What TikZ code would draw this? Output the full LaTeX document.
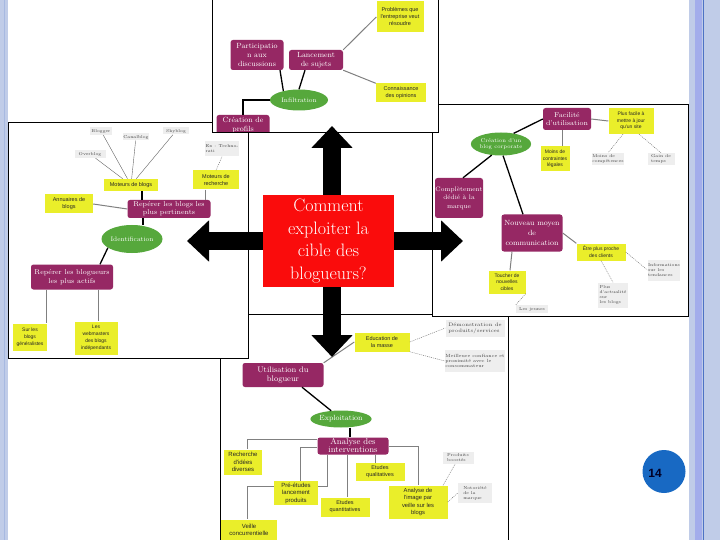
\documentclass[tikz,border=0pt]{standalone}
\usepackage{fontspec}
\usepackage{tikz}
\usetikzlibrary{arrows.meta, shapes.geometric}
\newfontfamily\notefont{Liberation Sans}
\definecolor{questionred}{RGB}{250, 12, 12}
\definecolor{mapplum}{RGB}{150, 40, 100}
\definecolor{mapgreen}{RGB}{86, 168, 60}
\definecolor{mapyellow}{RGB}{234, 238, 42}
\definecolor{mapgray}{RGB}{238, 238, 238}
\definecolor{pageblue}{RGB}{24, 105, 195}
\definecolor{stripe}{RGB}{192, 204, 232}
\definecolor{stripeline}{RGB}{78, 114, 196}
\pgfdeclarelayer{front}
\pgfsetlayers{main,front}
\tikzset{
  panel/.style={draw=black, line width=1pt},
  plum/.style={fill=mapplum, rounded corners=2.5pt, text=white, align=center, inner sep=0pt, font=\fontsize{7}{8.5}\selectfont},
  idea/.style={ellipse, fill=mapgreen, text=white, align=center, inner sep=0pt, font=\fontsize{6.5}{7}\selectfont},
  note/.style={fill=mapyellow, text=black!85, align=center, inner sep=0pt, font=\notefont\fontsize{5.5}{7}\selectfont},
  tag/.style={fill=mapgray, text=black!75, align=left, inner sep=0.5pt, font=\fontsize{4.2}{5}\selectfont},
  trunk/.style={line width=1.3pt, black},
  twig/.style={line width=1pt, gray},
  thread/.style={line width=0.4pt, black!60},
  hint/.style={line width=0.4pt, black!60, dash pattern=on 1pt off 1pt},
  bigarrow/.style={line width=18pt, -{Triangle[length=22pt, width=40pt]}},
}
\begin{document}
\begin{tikzpicture}[x=1pt, y=-1pt]
\useasboundingbox (0,0) rectangle (720,540);
\fill[white] (0,0) rectangle (720,540);
% slide borders
\fill[stripe] (0,0) rectangle (8,540);
\draw[stripeline!50, line width=0.6pt] (4,0) -- (4,540);
\fill[stripe] (689,0) rectangle (720,540);
\fill[stripe!85!blue] (695,0) rectangle (702,540);
\draw[stripeline, line width=0.8pt] (703,0) -- (703,540);

% exploitation
\begin{scope}
\clip (220,314) rectangle (508,540);
\fill[white] (220,314) rectangle (508,540);
\node[note, minimum width=55, minimum height=19] (masse) at (382,342) {Education de\\la masse};
\node[tag, minimum width=59, minimum height=17, font=\fontsize{5}{5.8}\selectfont] (demo) at (475,328) {Démonstration de\\produits/services};
\node[tag, minimum width=60, minimum height=22, font=\fontsize{4.5}{5.4}\selectfont] (trust) at (475,361) {Meilleure confiance et\\proximité avec le\\consommateur};
\node[plum, minimum width=81, minimum height=24, font=\fontsize{8}{9}\selectfont] (usage) at (283,375) {Utilisation du\\blogueur};
\node[idea, minimum width=61, minimum height=17, font=\fontsize{7.5}{8}\selectfont] (exploit) at (341,419) {Exploitation};
\node[plum, minimum width=71, minimum height=17, font=\fontsize{8.5}{8}\selectfont] (analysis) at (353,446) {Analyse des\\interventions};
\node[note, minimum width=38, minimum height=25, font=\notefont\fontsize{6}{7.5}\selectfont] (ideas) at (243,462) {Recherche\\d'idées\\diverses};
\node[note, minimum width=49, minimum height=18] (quali) at (380,472) {Etudes\\qualitatives};
\node[note, minimum width=49, minimum height=19] (quanti) at (345,507) {Etudes\\quantitatives};
\node[note, minimum width=59, minimum height=33, font=\notefont\fontsize{5.8}{7.5}\selectfont] (image) at (418,502) {Analyse de\\l'image par\\veille sur les\\blogs};
\node[note, minimum width=56, minimum height=21, font=\notefont\fontsize{6}{7.5}\selectfont] (watch) at (249,530) {Veille\\concurrentielle};
\node[tag, minimum width=31, minimum height=12] (boost) at (458,458) {Produits\\boostés};
\node[tag, minimum width=34, minimum height=20] (fame) at (475,493) {Notoriété\\de la\\marque};
\draw[twig] ([xshift=-26pt]analysis.south) -- ++(0,32) -| ([xshift=-2pt]watch.north);
\node[note, minimum width=44, minimum height=24, font=\notefont\fontsize{6}{7.5}\selectfont] (prestudy) at (296,493) {Pré-études\\lancement\\produits};
\draw[twig] (usage.north east) -- (masse.west);
\draw[hint] (masse.east) -- (demo.west);
\draw[hint] (masse.south east) -- (trust.west);
\draw[trunk] ([xshift=19pt]usage.south) -- (exploit.140);
\draw[trunk] ([xshift=9pt]exploit.south) -- ([xshift=-3pt]analysis.north);
\draw[twig] ([yshift=7pt]analysis.west) -| ([xshift=4pt]ideas.north);
\draw[twig] ([yshift=-1pt]analysis.west) -| ([xshift=4pt]prestudy.north);
\draw[twig] ([xshift=-6pt]analysis.south) -- ([xshift=-6pt]analysis.south |- quanti.north);
\draw[twig] ([xshift=22pt]analysis.south) -- ([xshift=22pt]analysis.south |- quali.north);
\draw[twig] (analysis.east) -| (image.north);
\draw[hint] ([xshift=25pt]image.north) -- ([xshift=-3pt]boost.south);
\draw[hint] (image.east) -- (fame.west);
\end{scope}
\draw[panel] (220,314) rectangle (508,540);

% creation d'un blog
\begin{scope}
\clip (432,105) rectangle (688,316);
\fill[white] (432,105) rectangle (688,316);
\node[plum, minimum width=48, minimum height=22] (ease) at (567,119) {Facilité\\d'utilisation};
\node[note, minimum width=45, minimum height=26, font=\notefont\fontsize{5}{6.5}\selectfont] (update) at (631,121) {Plus facile à\\mettre à jour\\qu'un site};
\node[tag, minimum width=30, minimum height=12] (skills) at (608,159) {Moins de\\compétences};
\node[tag, minimum width=27, minimum height=12] (time) at (661,159) {Gain de\\temps};
\node[idea, minimum width=57, minimum height=23, font=\fontsize{5.5}{6.5}\selectfont] (corporate) at (501,144) {Création d'un\\blog corporate};
\node[note, minimum width=29, minimum height=25, font=\notefont\fontsize{5}{6.5}\selectfont] (legal) at (555,159) {Moins de\\contraintes\\légales};
\node[plum, minimum width=48, minimum height=40, font=\fontsize{6.5}{8.5}\selectfont] (brand) at (459,198) {Complètement\\dédié à la\\marque};
\node[plum, minimum width=61, minimum height=37, font=\fontsize{7.5}{10}\selectfont] (channel) at (532,233) {Nouveau moyen\\de\\communication};
\node[note, minimum width=49, minimum height=17, font=\notefont\fontsize{5}{6.5}\selectfont] (closer) at (601,252) {Être plus proche\\des clients};
\node[tag, minimum width=32, minimum height=21] (trends) at (664,270) {Informations\\sur les\\tendances};
\node[tag, minimum width=30, minimum height=25] (news) at (613,295) {Plus\\d'actualité\\sur\\les blogs};
\node[note, minimum width=37, minimum height=23, font=\notefont\fontsize{5}{6.5}\selectfont] (targets) at (507,282) {Toucher de\\nouvelles\\cibles};
\node[tag, minimum width=32, minimum height=8] (young) at (532,309) {Les jeunes};
\draw[trunk] (corporate.40) -- (ease.west);
\draw[trunk] (corporate.230) -- ([xshift=4pt]brand.north);
\draw[trunk] (corporate.280) -- ([xshift=-9pt]channel.north);
\draw[twig] (ease.east) -- (update.west);
\draw[twig] ([xshift=-5pt]ease.south) -- ([xshift=7pt]legal.north);
\draw[hint] ([xshift=-8pt]update.south) -- (skills.north);
\draw[hint] ([xshift=8pt]update.south) -- (time.north);
\draw[twig] (channel.east) -- (closer.north west);
\draw[hint] (closer.east) -- (trends.west);
\draw[hint] (closer.south) -- (news.north);
\draw[twig] ([xshift=-20pt]channel.south) -- ([xshift=3pt]targets.north);
\draw[hint] (targets.south east) -- (young.north west);
\end{scope}
\draw[panel] (432,105) rectangle (688,316);

% identification
\begin{scope}
\clip (8,123) rectangle (248,358);
\fill[white] (8,123) rectangle (248,358);
\node[tag, minimum width=22, minimum height=8] (blogger) at (101,131) {Blogger};
\node[tag, minimum width=25, minimum height=7] (canalblog) at (136,137) {Canalblog};
\node[tag, minimum width=26, minimum height=7] (skyblog) at (176,131) {Skyblog};
\node[tag, minimum width=31, minimum height=8] (overblog) at (90,154) {Overblog};
\node[note, minimum width=54, minimum height=12] (blogengines) at (131,185) {Moteurs de blogs};
\node[tag, minimum width=23, minimum height=15] (example) at (222,149) {Ex : Techno-\\rati};
\node[note, minimum width=46, minimum height=19] (searchengines) at (216,180) {Moteurs de\\recherche};
\node[note, minimum width=48, minimum height=19] (directories) at (69,204) {Annuaires de\\blogs};
\node[plum, minimum width=83, minimum height=18, font=\fontsize{7}{8}\selectfont] (relevant) at (169,209) {Repérer les blogs les\\plus pertinents};
\node[idea, minimum width=61, minimum height=28] (ident) at (132,239) {Identification};
\node[plum, minimum width=82, minimum height=25, font=\fontsize{7}{9}\selectfont] (active) at (72,277) {Repérer les blogueurs\\les plus actifs};
\node[note, minimum width=34, minimum height=27, font=\notefont\fontsize{5}{7}\selectfont] (general) at (30,337) {Sur les\\blogs\\généralistes};
\node[note, minimum width=43, minimum height=33, font=\notefont\fontsize{5}{7}\selectfont] (webmasters) at (96,338) {Les\\webmasters\\des blogs\\indépendants};
\draw[thread] (blogengines) -- (blogger);
\draw[thread] (blogengines) -- (canalblog);
\draw[thread] (blogengines) -- (skyblog);
\draw[thread] (blogengines) -- (overblog);
\draw[hint] (searchengines.north) -- (example.south);
\draw[twig] ([xshift=-11pt]searchengines.south) -- ([xshift=-11pt]searchengines.south |- relevant.north);
\draw[trunk] ([xshift=11pt]blogengines.south) -- ([xshift=11pt]blogengines.south |- relevant.north);
\draw[twig] (directories.east) -- (relevant.west);
\draw[trunk] ([xshift=-26pt]relevant.south) -- ([xshift=11pt]ident.north);
\draw[trunk] (ident.200) -- ([xshift=28pt]active.north);
\draw[twig] ([xshift=-26pt]active.south) -- ([xshift=-26pt]active.south |- general.north);
\draw[twig] ([xshift=26pt]active.south) -- ([xshift=26pt]active.south |- webmasters.north);
\end{scope}
\draw[panel] (8,123) rectangle (248,358);

% infiltration
\begin{scope}
\clip (212,0) rectangle (438,133);
\fill[white] (212,0) rectangle (438,133);
\node[note, minimum width=47, minimum height=31] (problems) at (400,17) {Problèmes que\\l'entreprise veut\\résoudre};
\node[plum, minimum width=53, minimum height=30, font=\fontsize{7.5}{8.8}\selectfont] (talks) at (257,55) {Participatio\\n aux\\discussions};
\node[plum, minimum width=54, minimum height=20, font=\fontsize{7.5}{8.8}\selectfont] (topics) at (316,60) {Lancement\\de sujets};
\node[idea, minimum width=58, minimum height=21] (infil) at (299,100) {Infiltration};
\node[note, minimum width=50, minimum height=19] (opinions) at (401,93) {Connaissance\\des opinions};
\node[plum, minimum width=53, minimum height=20, font=\fontsize{7.5}{8.8}\selectfont] (profiles) at (243,125) {Création de\\profils};
\draw[trunk] (infil.150) -- ([xshift=23pt]talks.south);
\draw[trunk] (infil.north) -- ([xshift=-11pt]topics.south);
\draw[trunk] (infil.west) -| (profiles.north);
\draw[twig] (topics.north east) -- (problems.west);
\draw[twig] (topics.south east) -- (opinions.north west);
\end{scope}
\draw[panel] (212,0) rectangle (438,133);

% question and arrows
\begin{pgfonlayer}{front}
\node[fill=questionred, text=white, minimum width=131, minimum height=92, align=center, inner sep=0pt, font=\fontsize{18}{22.5}\selectfont] (question) at (328.5,241) {Comment\\exploiter la\\cible des\\blogueurs?};
\end{pgfonlayer}
\coordinate (upTip) at (332,126);
\coordinate (downTip) at (332,357);
\coordinate (leftTip) at (187,241);
\coordinate (rightTip) at (463,241);
\draw[bigarrow] ([xshift=3.5pt]question.north) -- (upTip);
\draw[bigarrow] ([xshift=3.5pt]question.south) -- (downTip);
\draw[bigarrow] (question.west) -- (leftTip);
\draw[bigarrow] (question.east) -- (rightTip);

% page number
\node[circle, fill=pageblue, minimum size=43pt, inner sep=0pt] (pagedisc) at (664,471.5) {};
\node[font=\notefont\bfseries\fontsize{12}{12}\selectfont, text=black!85!blue] (pagenum) at (655,473) {14};
\end{tikzpicture}
\end{document}
